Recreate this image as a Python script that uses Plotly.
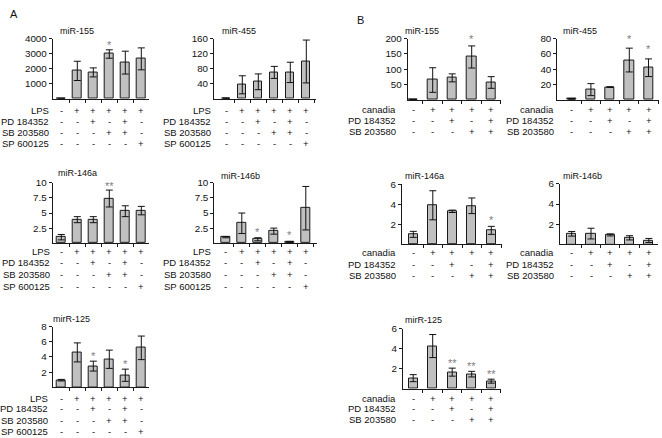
import plotly.graph_objects as go

W, H = 662, 438

# ---------------- data ----------------
A_LPS = ["-", "+", "+", "+", "+", "+"]
A_PD = ["-", "-", "+", "-", "+", "-"]
A_SB = ["-", "-", "-", "+", "+", "-"]
A_SP = ["-", "-", "-", "-", "-", "+"]

B_canadia = ["-", "+", "+", "+", "+"]
B_PD = ["-", "-", "+", "-", "+"]
B_SB = ["-", "-", "-", "+", "+"]

A_miR155_mean = [0, 1850, 1750, 2970, 2400, 2650]
A_miR155_err = [0, 640, 300, 280, 760, 730]
A_miR155_stars = ["", "", "", "*", "", ""]

A_miR455_mean = [1, 37, 45, 70, 70, 99]
A_miR455_err = [0.5, 24, 21, 16, 27, 57]
A_miR455_stars = ["", "", "", "", "", ""]

A_miR146a_mean = [1.0, 3.9, 3.9, 7.4, 5.3, 5.4]
A_miR146a_err = [0.45, 0.5, 0.5, 1.4, 0.9, 0.7]
A_miR146a_stars = ["", "", "", "**", "", ""]

A_miR146b_mean = [1.0, 3.3, 0.65, 2.0, 0.2, 5.8]
A_miR146b_err = [0.1, 1.7, 0.25, 0.5, 0.1, 3.6]
A_miR146b_stars = ["", "", "*", "", "*", ""]

A_miR125_mean = [0.95, 4.6, 2.8, 3.7, 1.6, 5.2]
A_miR125_err = [0.1, 1.25, 0.65, 1.2, 0.8, 1.55]
A_miR125_stars = ["", "", "*", "", "*", ""]

B_miR155_mean = [1, 65, 72, 140, 57]
B_miR155_err = [0.5, 40, 13, 36, 19]
B_miR155_stars = ["", "", "", "*", ""]

B_miR455_mean = [1.5, 13.5, 16.8, 52, 42]
B_miR455_err = [0.5, 7.8, 0.5, 15.5, 11.5]
B_miR455_stars = ["", "", "", "*", "*"]

B_miR146a_mean = [1.0, 3.9, 3.3, 3.85, 1.4]
B_miR146a_err = [0.3, 1.45, 0.12, 0.78, 0.4]
B_miR146a_stars = ["", "", "", "", "*"]

B_miR146b_mean = [1.05, 1.07, 0.94, 0.65, 0.39]
B_miR146b_err = [0.23, 0.53, 0.1, 0.21, 0.2]
B_miR146b_stars = ["", "", "", "", ""]

B_miR125_mean = [1.05, 4.25, 1.65, 1.45, 0.75]
B_miR125_err = [0.35, 1.15, 0.4, 0.28, 0.2]
B_miR125_stars = ["", "", "**", "**", "**"]

A_yticks_155 = [1000, 2000, 3000, 4000]
A_yticks_455 = [40, 80, 120, 160]
A_yticks_146 = [2.5, 5, 7.5, 10]
A_yticks_125 = [2, 4, 6, 8]
B_yticks_155 = [50, 100, 150, 200]
B_yticks_455 = [20, 40, 60, 80]
B_yticks_146 = [2, 4, 6]
B_yticks_125 = [2, 4, 6]

A_rows = [("LPS", A_LPS), ("PD 184352", A_PD), ("SB 203580", A_SB), ("SP 600125", A_SP)]
B_rows = [("canadia", B_canadia), ("PD 184352", B_PD), ("SB 203580", B_SB)]

# ---------------- layout geometry (pixels) ----------------
FONT = "Liberation Sans, Arial, sans-serif"

panels = [
    dict(title="miR-155", mean=A_miR155_mean, err=A_miR155_err, stars=A_miR155_stars,
         yticks=A_yticks_155, rows=A_rows, xl=52.7, xr=149, c0=61.3, s=16, yt=33, yb=94,
         row_y=[106, 117, 128, 139], lab_r=51, tx=58, ty=25, bw=0.52, star_shift=3),
    dict(title="miR-455", mean=A_miR455_mean, err=A_miR455_err, stars=A_miR455_stars,
         yticks=A_yticks_455, rows=A_rows, xl=214, xr=316, c0=226.3, s=16, yt=33, yb=94,
         row_y=[106, 117, 128, 139], lab_r=213, tx=220, ty=25, bw=0.52, star_shift=3),
    dict(title="miR-146a", mean=A_miR146a_mean, err=A_miR146a_err, stars=A_miR146a_stars,
         yticks=A_yticks_146, rows=A_rows, xl=52.7, xr=149, c0=61.3, s=16, yt=179.3, yb=240.5,
         row_y=[249, 260.5, 272, 284], lab_r=51.7, tx=56, ty=169.3, bw=0.52, star_shift=2),
    dict(title="miR-146b", mean=A_miR146b_mean, err=A_miR146b_err, stars=A_miR146b_stars,
         yticks=A_yticks_146, rows=A_rows, xl=214.3, xr=317, c0=225.8, s=16, yt=179.3, yb=240.5,
         row_y=[249, 260.5, 272, 284], lab_r=213, tx=219, ty=172.7, bw=0.52, star_shift=4),
    dict(title="mirR-125", mean=A_miR125_mean, err=A_miR125_err, stars=A_miR125_stars,
         yticks=A_yticks_125, rows=A_rows, xl=52.7, xr=149, c0=61.3, s=16, yt=325, yb=386.7,
         row_y=[397.7, 408.5, 420, 431.7], lab_r=49.5, tx=51, ty=317.3, bw=0.52, star_shift=3.5),
    dict(title="miR-155", mean=B_miR155_mean, err=B_miR155_err, stars=B_miR155_stars,
         yticks=B_yticks_155, rows=B_rows, xl=407.7, xr=501, c0=413.2, s=19.5, yt=33, yb=95.3,
         row_y=[105, 116, 127], lab_r=398, tx=403, ty=25, bw=0.47, star_shift=5),
    dict(title="miR-455", mean=B_miR455_mean, err=B_miR455_err, stars=B_miR455_stars,
         yticks=B_yticks_455, rows=B_rows, xl=557.3, xr=659, c0=571.7, s=19.2, yt=33, yb=95.3,
         row_y=[105, 116, 127], lab_r=556, tx=561, ty=25, bw=0.47, star_shift=7.5),
    dict(title="miR-146a", mean=B_miR146a_mean, err=B_miR146a_err, stars=B_miR146a_stars,
         yticks=B_yticks_146, rows=B_rows, xl=402, xr=502, c0=413.3, s=19.5, yt=180.7, yb=241.7,
         row_y=[250, 261.7, 273.3], lab_r=398, tx=403, ty=172.3, bw=0.47, star_shift=4),
    dict(title="miR-146b", mean=B_miR146b_mean, err=B_miR146b_err, stars=B_miR146b_stars,
         yticks=B_yticks_146, rows=B_rows, xl=560, xr=658, c0=571.7, s=19.3, yt=180.3, yb=241.7,
         row_y=[250, 261.7, 273.3], lab_r=556, tx=561, ty=172.3, bw=0.47, star_shift=4),
    dict(title="mirR-125", mean=B_miR125_mean, err=B_miR125_err, stars=B_miR125_stars,
         yticks=B_yticks_125, rows=B_rows, xl=403, xr=501, c0=413.2, s=19.5, yt=327, yb=388,
         row_y=[397.7, 408.3, 419.3], lab_r=398, tx=403, ty=318.3, bw=0.47, star_shift=3.5),
]

fig = go.Figure()
annotations = []
layout_axes = {}


def fmt(v):
    return ("%g" % v)


for k, p in enumerate(panels, start=1):
    xa = "x" if k == 1 else "x%d" % k
    ya = "y" if k == 1 else "y%d" % k
    xkey = "xaxis" if k == 1 else "xaxis%d" % k
    ykey = "yaxis" if k == 1 else "yaxis%d" % k
    n = len(p["mean"])
    xs = list(range(n))
    fig.add_trace(go.Bar(
        x=xs, y=p["mean"], width=p["bw"],
        marker=dict(color="#c0c0c0", line=dict(color="#1a1a1a", width=1)),
        error_y=dict(type="data", array=p["err"], visible=True, color="#111111",
                     thickness=1, width=3.5),
        xaxis=xa, yaxis=ya, showlegend=False, hoverinfo="skip",
    ))
    x0 = (p["xl"] - p["c0"]) / p["s"]
    x1 = (p["xr"] - p["c0"]) / p["s"]
    layout_axes[xkey] = dict(
        domain=[p["xl"] / W, p["xr"] / W], range=[x0, x1], anchor=ya,
        showline=True, linecolor="#1a1a1a", linewidth=1, showgrid=False, zeroline=False,
        ticks="outside", ticklen=3, tickwidth=1, tickcolor="#1a1a1a",
        tickvals=[i + 0.5 for i in range(n)], showticklabels=False, fixedrange=True,
    )
    ymax = max(p["yticks"])
    layout_axes[ykey] = dict(
        domain=[1 - p["yb"] / H, 1 - p["yt"] / H], range=[0, ymax], anchor=xa,
        showline=True, linecolor="#1a1a1a", linewidth=1, showgrid=False, zeroline=False,
        ticks="outside", ticklen=3, tickwidth=1, tickcolor="#1a1a1a",
        tickvals=p["yticks"], ticktext=[fmt(v) for v in p["yticks"]],
        tickfont=dict(family=FONT, size=9.8, color="#111111"), fixedrange=True,
    )
    # title
    annotations.append(dict(
        text=p["title"], xref="paper", yref="paper", x=p["tx"] / W, y=1 - p["ty"] / H,
        xanchor="left", yanchor="middle", showarrow=False,
        font=dict(family=FONT, size=9, color="#111111"),
    ))
    # stars
    for i, st in enumerate(p["stars"]):
        if st:
            annotations.append(dict(
                text=st, xref=xa, yref=ya, x=i, y=p["mean"][i] + p["err"][i],
                xanchor="center", yanchor="bottom", yshift=p["star_shift"] - 6,
                showarrow=False, font=dict(family=FONT, size=11, color="#808080"),
            ))
    # condition rows
    for (label, signs), ry in zip(p["rows"], p["row_y"]):
        annotations.append(dict(
            text=label, xref="paper", yref="paper", x=p["lab_r"] / W, y=1 - ry / H,
            xanchor="right", yanchor="middle", showarrow=False,
            font=dict(family=FONT, size=9.5, color="#111111"),
        ))
        for i, sgn in enumerate(signs):
            annotations.append(dict(
                text=sgn, xref=xa, yref="paper", x=i, y=1 - ry / H,
                xanchor="center", yanchor="middle", showarrow=False,
                font=dict(family=FONT, size=9.5, color="#111111"),
            ))

# panel letters
annotations.append(dict(text="A", xref="paper", yref="paper", x=8 / W, y=1 - 8.5 / H,
                        xanchor="left", yanchor="middle", showarrow=False,
                        font=dict(family=FONT, size=11, color="#111111")))
annotations.append(dict(text="B", xref="paper", yref="paper", x=355 / W, y=1 - 14 / H,
                        xanchor="left", yanchor="middle", showarrow=False,
                        font=dict(family=FONT, size=11, color="#111111")))

fig.update_layout(
    width=W, height=H, margin=dict(l=0, r=0, t=0, b=0),
    paper_bgcolor="white", plot_bgcolor="white",
    showlegend=False, annotations=annotations, bargap=0,
    font=dict(family=FONT, size=9.5, color="#111111"),
    **layout_axes,
)

fig.write_html("out.html", config={"displayModeBar": False})

# remove default page margins so the figure sits at the top-left corner
with open("out.html", "r", encoding="utf-8") as f:
    html = f.read()
html = html.replace("<head>", "<head><style>html,body{margin:0;padding:0;overflow:hidden;}</style>", 1)
with open("out.html", "w", encoding="utf-8") as f:
    f.write(html)
